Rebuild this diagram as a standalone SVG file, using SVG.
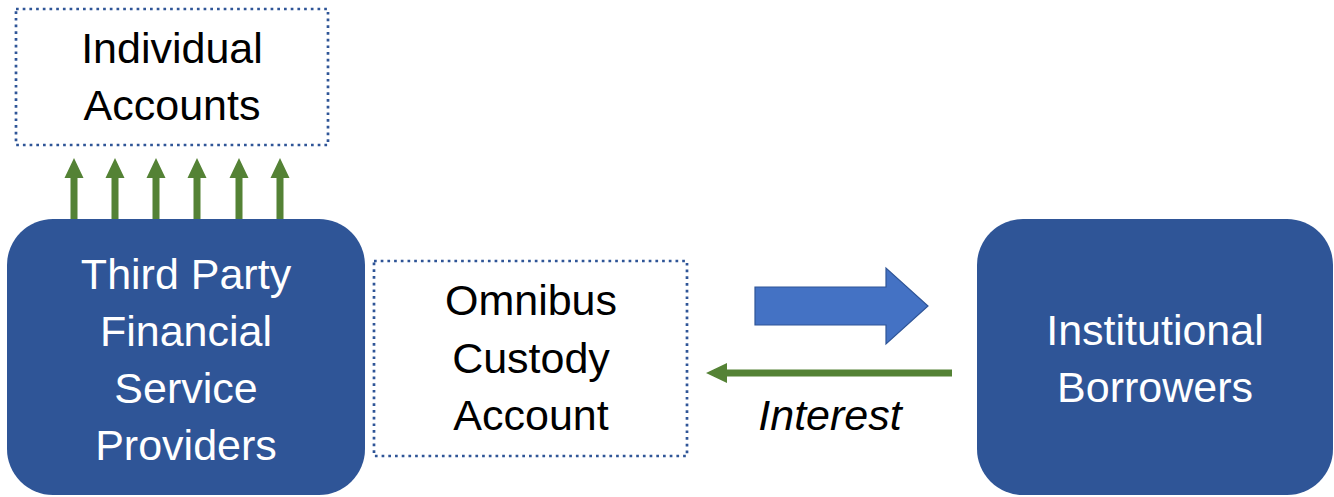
<svg xmlns="http://www.w3.org/2000/svg" width="1334" height="497" viewBox="0 0 1334 497">
  <style>
    .solid { fill: #2F5597; }
    .dotted { fill: #FFFFFF; stroke: #2F5597; stroke-width: 2.7; stroke-dasharray: 2.7 4; }
    .lbl { font-family: "Liberation Sans", Arial, sans-serif; font-size: 43px; text-anchor: middle; }
    .white { fill: #FFFFFF; }
    .black { fill: #000000; }
    .green { fill: #548235; }
  </style>
  <defs>
    <!-- upward green arrow, tip at origin -->
    <path id="up" d="M -3.5 20 L -9.5 20 L 0 0 L 9.5 20 L 3.5 20 L 3.5 62 L -3.5 62 Z"/>
  </defs>
  <rect width="1334" height="497" fill="#FFFFFF"/>

  <g id="connectors">
    <g class="green">
      <use href="#up" x="74" y="158"/>
      <use href="#up" x="115" y="158"/>
      <use href="#up" x="156" y="158"/>
      <use href="#up" x="197" y="158"/>
      <use href="#up" x="239" y="158"/>
      <use href="#up" x="280" y="158"/>
      <!-- interest flow back to custody -->
      <path d="M 952 369.5 L 727 369.5 L 727 363 L 706 373 L 727 383 L 727 376.5 L 952 376.5 Z"/>
    </g>
    <!-- lending flow to borrowers -->
    <path d="M 755 287 L 886 287 L 886 268 L 928 306 L 886 344 L 886 325 L 755 325 Z" fill="#4472C4" stroke="#2F5597" stroke-width="1.2"/>
    <text class="lbl black" x="830" y="430" font-style="italic">Interest</text>
  </g>

  <g id="individual-accounts">
    <rect class="dotted" x="16" y="9" width="312" height="136"/>
    <text class="lbl black" x="172" y="63">Individual</text>
    <text class="lbl black" x="172" y="120">Accounts</text>
  </g>

  <g id="third-party-providers">
    <rect class="solid" x="7" y="219" width="358" height="276" rx="46" ry="46"/>
    <text class="lbl white" x="186" y="289">Third Party</text>
    <text class="lbl white" x="186" y="346">Financial</text>
    <text class="lbl white" x="186" y="403">Service</text>
    <text class="lbl white" x="186" y="460">Providers</text>
  </g>

  <g id="omnibus-custody">
    <rect class="dotted" x="374" y="261" width="313" height="195"/>
    <text class="lbl black" x="531" y="315">Omnibus</text>
    <text class="lbl black" x="531" y="373">Custody</text>
    <text class="lbl black" x="531" y="430">Account</text>
  </g>

  <g id="institutional-borrowers">
    <rect class="solid" x="977" y="219" width="356" height="276" rx="46" ry="46"/>
    <text class="lbl white" x="1155" y="345">Institutional</text>
    <text class="lbl white" x="1155" y="402">Borrowers</text>
  </g>
</svg>
